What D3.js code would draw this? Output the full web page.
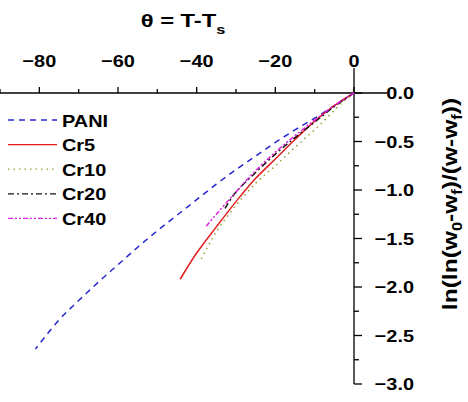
<!DOCTYPE html>
<html>
<head>
<meta charset="utf-8">
<script src="https://cdn.jsdelivr.net/npm/d3@7"></script>
<style>
  body { margin: 0; background: #fff; }
  text { font-family: "Liberation Sans", Arial, sans-serif; font-weight: bold; fill: #000; }
</style>
</head>
<body>
<svg id="chart" width="468" height="402"></svg>
<script>
// series names and values (theta, ln(ln(...)))
const seriesNames = ["PANI", "Cr5", "Cr10", "Cr20", "Cr40"];

const pani = [
  [0, 0], [-5, -0.13], [-10, -0.26], [-15, -0.38], [-20, -0.51], [-25, -0.65],
  [-30, -0.79], [-35, -0.94], [-40, -1.10], [-45, -1.26], [-50, -1.42],
  [-55, -1.59], [-60, -1.77], [-65, -1.95], [-70, -2.14], [-75, -2.34], [-81, -2.64]
];
const cr5 = [
  [0, 0], [-5, -0.13], [-10, -0.29], [-15, -0.48], [-20, -0.68], [-25, -0.88],
  [-30, -1.12], [-35, -1.38], [-40, -1.65], [-44.2, -1.92]
];
const cr10 = [
  [0, 0], [-3, -0.10], [-9.5, -0.36], [-15, -0.56], [-20, -0.75], [-25, -0.93],
  [-30, -1.16], [-35, -1.43], [-39.2, -1.74]
];
const cr20 = [
  [0, 0], [-5, -0.14], [-10, -0.30], [-15, -0.46], [-20, -0.63], [-25, -0.82],
  [-30, -1.02], [-32.8, -1.19]
];
const cr40 = [
  [0, 0], [-5, -0.13], [-10, -0.28], [-15, -0.44], [-20, -0.61], [-25, -0.80],
  [-30, -1.02], [-35, -1.25], [-37.9, -1.39]
];

const xMajorTicks = [-80, -60, -40, -20, 0];
const xMinorTicks = [-90, -70, -50, -30, -10];
const yMajorTicks = [0, -0.5, -1.0, -1.5, -2.0, -2.5, -3.0];
const yMinorTicks = [-0.25, -0.75, -1.25, -1.75, -2.25, -2.75];

const series = [
  { name: "PANI", values: pani, color: "#2727cf", dash: "6,5" },
  { name: "Cr5", values: cr5, color: "#e51c1c", dash: null },
  { name: "Cr10", values: cr10, color: "#95a033", dash: "1.5,4" },
  { name: "Cr20", values: cr20, color: "#111111", dash: "6,3,2,3" },
  { name: "Cr40", values: cr40, color: "#e020e0", dash: "5,2,2,2,2,2" }
];

const svg = d3.select("#chart");
const sx = 1.17; // the glyphs in the picture are a bit wide

const x = d3.scaleLinear().domain([-90, 0]).range([0, 354]);
const y = d3.scaleLinear().domain([0, -3]).range([93, 384]);

// stretched text helper
function label(g, px, py, str, size, anchor, rot, stretch) {
  return g.append("text")
    .attr("transform", `translate(${px},${py})` + (rot ? ` rotate(${rot})` : "") + ` scale(${stretch || sx},1)`)
    .attr("text-anchor", anchor)
    .style("font-size", size + "px")
    .text(str);
}

const axes = svg.append("g").attr("stroke", "#000").attr("stroke-width", 1.3);

// x axis along the top (y = 0), runs a bit past the y axis
axes.append("line")
  .attr("x1", x(-90)).attr("x2", x(0) + 33)
  .attr("y1", y(0)).attr("y2", y(0));
axes.selectAll(".xmaj").data(xMajorTicks).join("line")
  .attr("x1", d => x(d)).attr("x2", d => x(d))
  .attr("y1", y(0)).attr("y2", y(0) - 6);
axes.selectAll(".xmin").data(xMinorTicks).join("line")
  .attr("x1", d => x(d)).attr("x2", d => x(d))
  .attr("y1", y(0)).attr("y2", y(0) - 4);

// y axis at theta = 0
axes.append("line")
  .attr("x1", x(0)).attr("x2", x(0))
  .attr("y1", y(0) - 25).attr("y2", y(-3));
axes.selectAll(".ymaj").data(yMajorTicks).join("line")
  .attr("x1", x(0)).attr("x2", x(0) + 8)
  .attr("y1", d => y(d)).attr("y2", d => y(d));
axes.selectAll(".ymin").data(yMinorTicks).join("line")
  .attr("x1", x(0)).attr("x2", x(0) + 5)
  .attr("y1", d => y(d)).attr("y2", d => y(d));

const labels = svg.append("g");
xMajorTicks.forEach(t => label(labels, x(t), 67, d3.format("d")(t), 17, "middle"));
yMajorTicks.forEach(t => label(labels, 414, y(t) + 6, d3.format(".1f")(t), 17, "end"));

// x title
const xt = label(labels, 183, 27, "", 19, "middle", 0, 1.25);
xt.append("tspan").text("\u03b8 = T-T");
xt.append("tspan").attr("dy", 7).style("font-size", "13px").text("s");

// y title, rotated, reads bottom to top
const yt = label(labels, 457, 204, "", 21, "middle", -90);
yt.append("tspan").text("ln(ln(w");
yt.append("tspan").attr("dy", 5).style("font-size", "14px").text("0");
yt.append("tspan").attr("dy", -5).text("-w");
yt.append("tspan").attr("dy", 5).style("font-size", "14px").text("f");
yt.append("tspan").attr("dy", -5).text(")/(w-w");
yt.append("tspan").attr("dy", 5).style("font-size", "14px").text("f");
yt.append("tspan").attr("dy", -5).text("))");

// curves
const line = d3.line()
  .x(d => x(d[0]))
  .y(d => y(d[1]))
  .curve(d3.curveCatmullRom);

svg.append("g")
  .selectAll("path")
  .data(series)
  .join("path")
  .attr("d", d => line(d.values))
  .attr("fill", "none")
  .attr("stroke", d => d.color)
  .attr("stroke-width", 1.5)
  .attr("stroke-dasharray", d => d.dash);

// legend
const legend = svg.append("g")
  .selectAll("g")
  .data(series)
  .join("g")
  .attr("transform", (d, i) => `translate(0,${120 + i * 24.6})`);
legend.append("line")
  .attr("x1", 8).attr("x2", 57)
  .attr("stroke", d => d.color)
  .attr("stroke-width", 1.3)
  .attr("stroke-dasharray", d => d.dash);
legend.each(function (d) {
  label(d3.select(this), 62, 6.5, d.name, 17, "start");
});
</script>
</body>
</html>
